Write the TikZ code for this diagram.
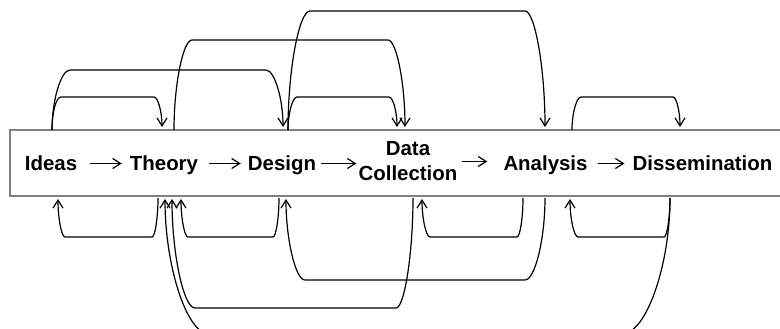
\documentclass[tikz,border=0pt]{standalone}
\usepackage{fontspec}
\setmainfont{Liberation Sans}
\usetikzlibrary{arrows.meta}

\tikzset{
  stage/.style={font=\bfseries\fontsize{20.5}{25}\selectfont, inner sep=0pt, text height=15bp, text depth=2bp, anchor=base},
  twostage/.style={font=\bfseries\fontsize{20.5}{25}\selectfont, inner sep=0pt, align=center},
  flow/.style={line width=1.2bp, -{Straight Barb[length=8bp,width=10bp]}},
  frame/.style={draw=black!50, line width=1.4bp},
}

\begin{document}
\begin{tikzpicture}[x=1bp,y=1bp]

  \useasboundingbox (0,0) rectangle (780,328);

  % Frame
  \draw [frame] (10,132) rectangle (782,198);

  % Stages
  \node [stage] (ideas) at (51,158) {Ideas};
  \node [stage] (theory) at (164,158) {Theory};
  \node [stage] (design) at (282,158) {Design};
  \node [twostage] (collection) at (408,166.5) {Data\\Collection};
  \node [stage] (analysis) at (545.5,158) {Analysis};
  \node [stage] (dissemination) at (702.5,158) {Dissemination};

  % Forward steps
  \draw [flow] ([xshift=13bp]ideas.east) -- ([xshift=-8bp]theory.west);
  \draw [flow] ([xshift=11bp]theory.east) -- ([xshift=-7bp]design.west);
  \draw [flow] ([xshift=5bp]design.east) -- ([xshift=-2bp]collection.west |- design.east);
  \draw [flow] ([xshift=4bp]collection.east) -- ([xshift=-16bp]analysis.west |- collection.east);
  \draw [flow] ([xshift=10bp]analysis.east) -- ([xshift=-8bp]dissemination.west);

  % Top of the frame
  \coordinate (T0) at (52,198);
  \coordinate (T1) at (162,201);
  \coordinate (T2) at (174,198);
  \coordinate (T3) at (283,201);
  \coordinate (T4) at (288,198);
  \coordinate (T5) at (397,201);
  \coordinate (T6) at (405,201);
  \coordinate (T7) at (545,201);
  \coordinate (T8) at (572,198);
  \coordinate (T9) at (680,201);

  % Bottom of the frame
  \coordinate (B0) at (58,129);
  \coordinate (B1) at (158,130);
  \coordinate (B2) at (165,129);
  \coordinate (B3) at (172,129);
  \coordinate (B4) at (181,129);
  \coordinate (B5) at (279,130);
  \coordinate (B6) at (286,129);
  \coordinate (B7) at (413,130);
  \coordinate (B8) at (422,129);
  \coordinate (B9) at (523,130);
  \coordinate (B10) at (545,130);
  \coordinate (B11) at (570,129);
  \coordinate (B12) at (670,130);

  % Jumps forward
  \draw [flow] (T0) .. controls +(0,17) and +(-5,0) .. (61,231) -- (154,231) .. controls +(4,0) and +(0,15) .. (T1);
  \draw [flow] (T0) .. controls +(0,30) and +(-9,0) .. (70,258) -- (266,258) .. controls +(8.5,0) and +(0,28.5) .. (T3);
  \draw [flow] (T2) .. controls +(0,45) and +(-9,0) .. (192,288) -- (388,288) .. controls +(8.5,0) and +(0,43.5) .. (T6);
  \draw [flow] (T4) .. controls +(0,16.5) and +(-4.5,0) .. (297,231) -- (389,231) .. controls +(4,0) and +(0,15) .. (T5);
  \draw [flow] (T4) .. controls +(0,60) and +(-11,0) .. (310,317) -- (525,317) .. controls +(10,0) and +(0,58) .. (T7);
  \draw [flow] (T8) .. controls +(0,16.5) and +(-4.5,0) .. (581,231) -- (673,231) .. controls +(3.5,0) and +(0,15) .. (T9);

  % Jumps back
  \draw [flow] (B1) .. controls +(0,-19.5) and +(3,0) .. (152,91) -- (65,91) .. controls +(-3.5,0) and +(0,-19) .. (B0);
  \draw [flow] (B5) .. controls +(0,-19.5) and +(3,0) .. (273,91) -- (188,91) .. controls +(-3.5,0) and +(0,-19) .. (B4);
  \draw [flow] (B10) .. controls +(0,-41) and +(10,0) .. (525,48) -- (305,48) .. controls +(-9.5,0) and +(0,-40.5) .. (B6);
  \draw [flow] (B9) .. controls +(0,-19.5) and +(3,0) .. (517,91) -- (430,91) .. controls +(-4,0) and +(0,-19) .. (B8);
  \draw [flow] (B12) .. controls +(0,-19.5) and +(3,0) .. (664,91) -- (578,91) .. controls +(-4,0) and +(0,-19) .. (B11);
  \draw [flow] (B7) .. controls +(0,-55) and +(8.5,0) .. (396,20) -- (195,20) .. controls +(-11.5,0) and +(0,-54.5) .. (B3);
  \draw [flow] (B12) .. controls +(0,-68) and +(24,0) .. (622,-6) -- (209,-6) .. controls +(-22,0) and +(0,-67.5) .. (B2);

\end{tikzpicture}
\end{document}
